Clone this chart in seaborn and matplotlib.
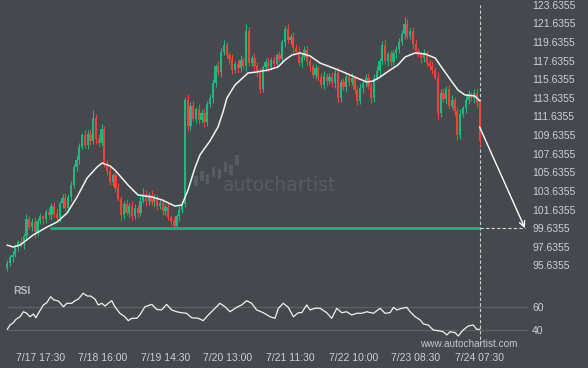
import numpy as np
import pandas as pd
import matplotlib
matplotlib.use("Agg")
import matplotlib.pyplot as plt
import seaborn as sns

# ---------------- data ----------------
first_open = 95.4
closes = [
    95.9, 96.5, 96.8, 97.6, 98.2, 97.9, 98.8, 100.6, 99.8, 100.3,
    99.2, 100.4, 100.9, 100.6, 101.4, 101.0, 102.0, 101.2, 100.7, 102.3,
    102.9, 101.8, 103.0, 104.3, 106.2, 107.0, 108.4, 109.6, 108.6, 109.8,
    109.0, 111.5, 109.2, 108.8, 110.3, 106.6, 105.8, 104.6, 105.3, 104.0,
    102.8, 101.0, 102.2, 101.3, 102.0, 100.9, 101.8, 101.3, 102.6, 103.3,
    102.5, 103.2, 102.4, 102.9, 102.0, 102.3, 101.5, 101.9, 100.8, 100.4,
    99.9, 100.9, 101.6, 102.2, 113.4, 110.6, 112.8, 111.4, 112.4, 111.2,
    112.0, 111.0, 113.0, 113.6, 115.2, 117.0, 116.4, 118.6, 119.3, 118.2,
    117.8, 116.6, 117.3, 116.8, 117.7, 117.0, 120.8, 117.4, 117.9, 117.1,
    116.3, 114.6, 116.9, 117.5, 116.9, 117.7, 117.3, 118.2, 117.8, 119.6,
    121.0, 119.8, 120.2, 119.0, 118.6, 117.4, 118.0, 118.8, 117.6, 117.0,
    116.1, 116.8, 115.9, 115.0, 116.0, 115.4, 115.9, 115.2, 116.3, 113.6,
    115.3, 114.8, 115.9, 115.3, 115.8, 114.5, 113.3, 114.7, 115.2, 115.8,
    114.9, 113.6, 115.8, 116.5, 117.6, 119.3, 117.6, 118.3, 117.5, 118.4,
    118.9, 119.6, 120.5, 121.6, 120.3, 120.8, 119.4, 118.7, 118.3, 117.9,
    118.4, 117.4, 117.1, 116.6, 115.8, 112.0, 114.2, 113.5, 114.6, 112.8,
    113.4, 112.2, 109.6, 111.9, 112.5, 113.4, 114.0, 113.6, 114.2, 113.1,
    109.0,
]
upper_wick = [
    0.3, 0.2, 0.4, 0.3, 0.2, 0.5, 0.3, 0.6, 0.3, 0.4,
    0.5, 0.3, 0.4, 0.2, 0.3, 0.5, 0.3, 0.4, 0.6, 0.3,
    0.4, 0.5, 0.3, 0.4, 0.3, 0.5, 0.4, 0.3, 0.6, 0.4,
    0.5, 0.8, 0.4, 0.6, 0.5, 0.3, 0.4, 0.5, 0.3, 0.4,
    0.5, 0.3, 0.4, 0.6, 0.3, 0.5, 0.4, 0.3, 0.5, 0.6,
    0.4, 0.3, 0.5, 0.4, 0.3, 0.4, 0.5, 0.3, 0.4, 0.3,
    0.4, 0.3, 0.5, 0.4, 0.3, 0.6, 0.4, 0.5, 0.3, 0.6,
    0.4, 0.5, 0.3, 0.4, 0.5, 0.3, 0.6, 0.4, 0.5, 0.3,
    0.4, 0.5, 0.3, 0.4, 0.5, 0.3, 0.8, 0.4, 0.3, 0.5,
    0.4, 0.5, 0.3, 0.4, 0.5, 0.3, 0.4, 0.3, 0.5, 0.4,
    0.4, 0.6, 0.3, 0.5, 0.4, 0.6, 0.3, 0.4, 0.5, 0.3,
    0.4, 0.5, 0.3, 0.4, 0.5, 0.3, 0.4, 0.5, 0.3, 0.6,
    0.4, 0.5, 0.3, 0.4, 0.5, 0.3, 0.4, 0.5, 0.3, 0.4,
    0.5, 0.3, 0.4, 0.5, 0.3, 0.4, 0.6, 0.3, 0.5, 0.4,
    0.3, 0.5, 0.4, 0.7, 0.5, 0.3, 0.4, 0.5, 0.3, 0.4,
    0.5, 0.3, 0.4, 0.5, 0.3, 0.6, 0.4, 0.5, 0.3, 0.4,
    0.5, 0.3, 0.4, 0.5, 0.3, 0.4, 0.5, 0.3, 0.4, 0.5,
    0.3,
]
lower_wick = [
    0.4, 0.3, 0.5, 0.3, 0.4, 0.3, 0.5, 0.4, 0.3, 0.5,
    0.6, 0.4, 0.3, 0.5, 0.4, 0.3, 0.5, 0.4, 0.3, 0.4,
    0.5, 0.3, 0.4, 0.5, 0.3, 0.4, 0.5, 0.3, 0.4, 0.5,
    0.4, 0.3, 0.5, 0.4, 0.3, 0.4, 0.5, 0.3, 0.4, 0.5,
    0.3, 0.6, 0.4, 0.3, 0.5, 0.4, 0.3, 0.5, 0.4, 0.3,
    0.5, 0.4, 0.3, 0.5, 0.4, 0.3, 0.5, 0.4, 0.3, 0.4,
    0.3, 0.4, 0.5, 0.3, 0.3, 0.5, 0.4, 0.3, 0.5, 0.4,
    0.3, 0.5, 0.4, 0.3, 0.5, 0.4, 0.3, 0.5, 0.4, 0.3,
    0.5, 0.4, 0.3, 0.5, 0.4, 0.3, 0.5, 0.4, 0.3, 0.5,
    0.4, 0.5, 0.3, 0.4, 0.5, 0.3, 0.4, 0.5, 0.3, 0.4,
    0.5, 0.3, 0.4, 0.5, 0.3, 0.4, 0.5, 0.3, 0.4, 0.5,
    0.3, 0.4, 0.5, 0.3, 0.4, 0.5, 0.3, 0.4, 0.5, 0.5,
    0.4, 0.3, 0.5, 0.4, 0.3, 0.5, 0.4, 0.3, 0.5, 0.4,
    0.3, 0.5, 0.4, 0.3, 0.5, 0.4, 0.3, 0.5, 0.4, 0.3,
    0.5, 0.4, 0.3, 0.5, 0.4, 0.3, 0.5, 0.4, 0.3, 0.5,
    0.4, 0.3, 0.5, 0.4, 0.3, 0.75, 0.4, 0.3, 0.5, 0.4,
    0.3, 0.5, 0.5, 0.4, 0.3, 0.5, 0.4, 0.3, 0.5, 0.4,
    0.5,
]

ma_hours = [0, 2.2, 4.7, 9.4, 14.4, 18.0, 21.6, 25.2, 28.8, 32.4, 34.2, 37.1,
            38.8, 43.5, 47.1, 52.2, 55.8, 60.4, 62.9, 65.1, 67.6, 69.4, 73.0,
            75.9, 77.7, 79.1, 82.0, 86.7, 89.9, 93.9, 97.5, 100.0, 102.5,
            105.4, 109.0, 112.6, 117.3, 120.9, 125.9, 129.5, 131.7, 134.2,
            137.8, 140.6, 143.2, 146.8, 150.4, 154.0, 156.5, 160.1, 162.2,
            164.7, 168.3, 170.1]
ma_values = [97.82, 97.61, 97.82, 98.90, 99.76, 100.29, 101.26, 102.98, 105.02,
             106.20, 106.63, 106.31, 105.88, 104.27, 103.20, 102.98, 102.66,
             102.01, 102.12, 103.73, 106.10, 107.50, 109.00, 110.50, 112.10,
             113.61, 115.01, 116.30, 116.41, 116.62, 116.95, 117.70, 118.23,
             118.45, 118.13, 117.37, 116.84, 116.41, 115.76, 115.33, 115.44,
             115.87, 116.62, 117.16, 118.02, 118.45, 118.34, 117.91, 116.84,
             115.33, 114.47, 113.94, 113.83, 113.29]

rsi_hours = [0.1, 1.1, 2.3, 3.2, 4.7, 5.9, 7.1, 8.3, 9.5, 10.4, 11.6, 13.1, 14.3,
             15.7, 16.9, 18.5, 20.3, 21.5, 23.3, 24.5, 25.6, 27.4, 28.9, 30.1,
             31.7, 32.8, 34.1, 35.3, 36.4, 37.7, 38.8, 40.6, 42.4, 43.6, 44.9,
             46.7, 47.8, 49.6, 52.1, 53.8, 55.6, 57.4, 59.2, 61.0, 62.8, 64.6,
             66.4, 68.8, 70.6, 72.4, 74.2, 76.6, 78.4, 80.2, 82.6, 84.4, 86.2,
             88.0, 89.8, 92.2, 94.6, 96.4, 97.6, 99.4, 101.2, 103.0, 104.8,
             106.0, 107.8, 109.0, 110.8, 112.6, 115.0, 116.8, 118.6, 120.4,
             122.2, 124.0, 125.8, 127.6, 129.4, 131.8, 134.2, 136.0, 137.8,
             139.0, 140.2, 142.0, 143.8, 145.0, 146.8, 148.6, 149.8, 151.5,
             153.3, 155.1, 156.9, 158.2, 159.4, 161.2, 162.3, 164.1, 165.9,
             167.7, 168.9, 170.1]
rsi_values = [40.8, 44.5, 46.4, 49.2, 51.4, 55.6, 54.3, 51.4, 53.7, 50.6, 55.6,
              61.3, 63.2, 68.2, 65.5, 64.6, 59.8, 62.7, 62.7, 64.9, 66.1, 71.1,
              68.8, 68.8, 66.1, 61.3, 62.7, 60.4, 62.7, 64.9, 59.8, 54.3, 51.4,
              48.1, 50.1, 50.1, 52.9, 59.8, 61.8, 57.6, 57.1, 61.8, 57.1, 55.6,
              54.8, 54.3, 50.6, 50.1, 48.1, 52.9, 57.1, 62.7, 59.8, 55.6, 59.3,
              61.3, 64.9, 62.7, 57.1, 54.8, 51.4, 50.1, 58.5, 62.7, 59.3, 51.4,
              54.8, 54.8, 61.3, 57.1, 58.5, 58.5, 54.8, 50.1, 58.5, 54.8, 55.6,
              52.9, 54.3, 54.3, 55.6, 54.3, 58.5, 54.3, 54.8, 59.3, 57.1, 58.5,
              59.3, 55.6, 51.4, 48.7, 45.3, 44.5, 40.3, 39.7, 38.8, 36.1, 38.8,
              38.0, 35.2, 40.3, 43.6, 44.5, 40.8, 40.8]

support_level = 99.6355
support_start = 15.5
now_hour = 170
forecast_start_price = 110.5
forecast_end_hour = 186.3

price_ticks = [95.6355, 97.6355, 99.6355, 101.6355, 103.6355, 105.6355, 107.6355,
               109.6355, 111.6355, 113.6355, 115.6355, 117.6355, 119.6355,
               121.6355, 123.6355]
price_labels = ["95.6355", "97.6355", "99.6355", "101.6355", "103.6355",
                "105.6355", "107.6355", "109.6355", "111.6355", "113.6355",
                "115.6355", "117.6355", "119.6355", "121.6355", "123.6355"]
time_ticks = [12, 34.5, 57, 79.5, 102, 124.5, 147, 170]
time_labels = ["7/17 17:30", "7/18 16:00", "7/19 14:30", "7/20 13:00",
               "7/21 11:30", "7/22 10:00", "7/23 08:30", "7/24 07:30"]
rsi_levels = [40, 60]
rsi_labels = ["40", "60"]

# logo (watermark icon) block offsets
logo_bottoms = [0, 1.0, 0.5, 2.0, 1.5, 3.0, 2.5, 4.5]

# ---------------- style ----------------
BG = "#45484d"
TXT = "#cdd0d3"
GREEN = "#1bb87f"
RED = "#f2403d"
WM = "#585c61"

sns.set_theme(style="dark")
plt.rcParams["font.family"] = ["Liberation Sans", "DejaVu Sans"]

fig = plt.figure(figsize=(5.88, 3.68), dpi=100, facecolor=BG)

# watermark logo (behind everything)
axl = fig.add_axes([193 / 588, 1 - 186 / 368, 47 / 588, 32 / 368])
axl.set_facecolor("none")
axl.axis("off")
axl.bar(range(len(logo_bottoms)), [2.2] * len(logo_bottoms), bottom=logo_bottoms,
        width=0.6, color=WM, linewidth=0)
axl.set_xlim(-0.5, len(logo_bottoms) - 0.5)
axl.set_ylim(0, 7)

ax = fig.add_axes([0, 0.2391, 0.898, 0.7609])
axr = fig.add_axes([0, 0.0625, 0.898, 0.1766])
XL = (-2.518, 187.41)

for a in (ax, axr):
    a.set_facecolor("none")
    for s in a.spines.values():
        s.set_visible(False)
    a.grid(False)
    a.set_xlim(*XL)

# candles
idx = np.arange(len(closes))
opens = np.array([first_open] + closes[:-1])
cl = np.array(closes)
bottoms = np.minimum(opens, cl)
tops = np.maximum(opens, cl)
heights = tops - bottoms
highs = tops + np.array(upper_wick)
lows = bottoms - np.array(lower_wick)
cols = [GREEN if c >= o else RED for o, c in zip(opens, cl)]
ax.vlines(idx, lows, highs, colors=cols, lw=0.8, zorder=2)
ax.bar(idx, heights, bottom=bottoms, width=0.8, color=cols, linewidth=0, zorder=2)

# moving average
ma_df = pd.DataFrame({"h": ma_hours, "v": ma_values})
sns.lineplot(data=ma_df, x="h", y="v", ax=ax, color="#f2f2f2", lw=1.1,
             estimator=None, sort=False, zorder=3)

# support line and forecast
ax.hlines(support_level, support_start, now_hour, color="#1db380", lw=2.0, zorder=4)
ax.hlines(support_level, now_hour, forecast_end_hour, color="#d8d8d8", lw=0.8,
          linestyles=(0, (3, 2)), zorder=4)
ax.axvline(now_hour, ymin=0, ymax=(280 - 5) / 280, color="#d0d0d0", lw=0.8,
           ls=(0, (3, 2)), zorder=1)
ax.annotate("", xy=(forecast_end_hour, support_level),
            xytext=(now_hour, forecast_start_price),
            arrowprops=dict(arrowstyle="->", color="white", lw=1.0,
                            mutation_scale=10, shrinkA=0, shrinkB=0),
            annotation_clip=False, zorder=5)

ax.set_ylim(94.065, 124.14)
ax.yaxis.tick_right()
ax.set_yticks(price_ticks)
ax.set_yticklabels(price_labels)
ax.set_xticks([])
ax.tick_params(axis="y", length=0, pad=2.9, labelsize=7.5, labelcolor=TXT)
ax.set_xlabel("")
ax.set_ylabel("")

# watermark text
ax.text(0.530, 0.336, "autochartist", transform=ax.transAxes, fontsize=13.5,
        family="DejaVu Sans", color=WM, ha="center", va="center", zorder=0)

# RSI panel
axr.hlines(rsi_levels, 0, XL[1], color="#5d6163", lw=0.9, zorder=1)
rsi_df = pd.DataFrame({"h": rsi_hours, "v": rsi_values})
sns.lineplot(data=rsi_df, x="h", y="v", ax=axr, color="#f2f2f2", lw=0.9,
             estimator=None, sort=False, zorder=3)
axr.axvline(now_hour, color="#d0d0d0", lw=0.8, ls=(0, (3, 2)), zorder=2)
axr.set_ylim(27.65, 82.27)
axr.yaxis.tick_right()
axr.set_yticks(rsi_levels)
axr.set_yticklabels(rsi_labels)
axr.set_xticks(time_ticks)
axr.set_xticklabels(time_labels)
axr.tick_params(axis="y", length=0, pad=2.9, labelsize=7.5, labelcolor=TXT)
axr.tick_params(axis="x", length=0, pad=6, labelsize=7.5, labelcolor=TXT)
axr.set_xlabel("")
axr.set_ylabel("")
axr.text(0.026, 0.83, "RSI", transform=axr.transAxes, fontsize=7.5,
         fontweight="bold", color="#b4b8bc", ha="left", va="center")
axr.text(0.795, 0.02, "www.autochartist.com", transform=axr.transAxes,
         fontsize=7.2, color="#c4c7ca", ha="left", va="center")

fig.savefig("out.png", dpi=100, facecolor=BG)
